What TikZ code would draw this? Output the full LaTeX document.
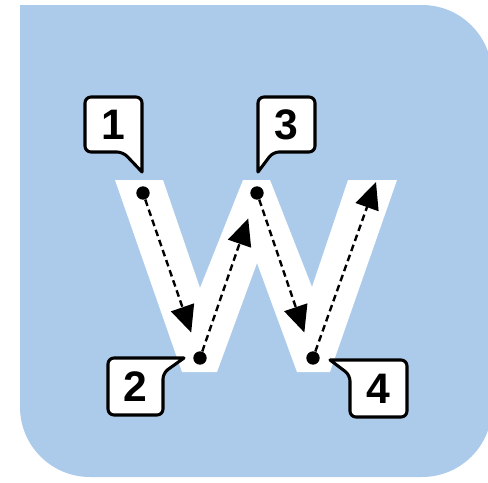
\documentclass[tikz,border=0pt]{standalone}
\usepackage{fontspec}
\newfontfamily\labelfont{Liberation Sans}
\usetikzlibrary{arrows.meta}
\definecolor{bgblue}{RGB}{172,203,234}
\begin{document}
\begin{tikzpicture}[x=0.75pt,y=-0.75pt,
  dot/.style={circle,fill=black,inner sep=0pt,minimum size=10pt},
  arr/.style={line width=1.8pt,dash pattern=on 5pt off 3pt,
    -{Triangle[length=20pt,width=18pt]},shorten >=15pt},
  callout/.style={draw=black,fill=white,line width=2.3pt,line join=round},
  lbl/.style={font=\labelfont\bfseries\fontsize{32}{34}\selectfont,inner sep=0pt}]
\useasboundingbox (0,0) rectangle (488,482);
% background
\fill[bgblue] (20,5) [rounded corners=52.5pt] -- (492,5) -- (492,477) -- (20,477) -- (20,5);
% W shape
\fill[white] (115,180) -- (163,180) -- (200,288) -- (243,180) -- (270,180)
  -- (312,287) -- (348,180) -- (397,180) -- (330,372) -- (297,372)
  -- (257,263) -- (217,372) -- (182,372) -- cycle;
% dots
\node[dot] (d1) at (143,193) {};
\node[dot] (d2) at (200,358) {};
\node[dot] (d3) at (257,193) {};
\node[dot] (d4) at (313,358) {};
\coordinate (e) at (376,182);
% arrows
\draw[arr] (d1) -- (d2);
\draw[arr] (d2) -- (d3);
\draw[arr] (d3) -- (d4);
\draw[arr,shorten >=0pt] (d4) -- (e);
% callouts
\path[callout] (142,172) [rounded corners=4.5pt] -- (142,97) -- (85,97) -- (85,152) -- (123,152) [sharp corners] -- cycle;
\path[callout] (258,172) [rounded corners=4.5pt] -- (258,97) -- (315,97) -- (315,152) -- (273,152) [sharp corners] -- cycle;
\path[callout] (184,358) [rounded corners=4.5pt] -- (108,358) -- (108,415) -- (163,415) -- (163,373) [sharp corners] -- cycle;
\path[callout] (330,360) [rounded corners=4.5pt] -- (407,360) -- (407,417) -- (350,417) -- (350,375) [sharp corners] -- cycle;
\node[lbl] (l1) at (113.5,125) {1};
\node[lbl] (l3) at (286.5,125) {3};
\node[lbl] (l2) at (135.5,387) {2};
\node[lbl] (l4) at (378.5,389) {4};
\end{tikzpicture}
\end{document}
